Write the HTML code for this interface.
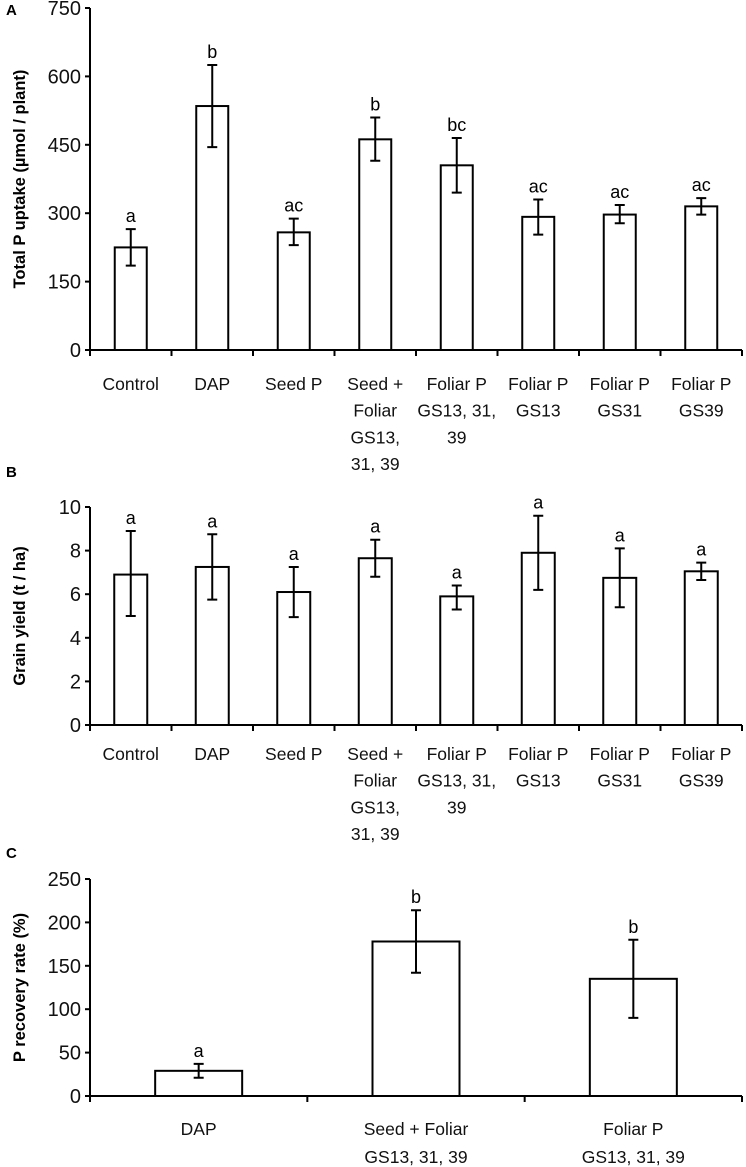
<!DOCTYPE html>
<html><head><meta charset="utf-8"><style>
body{margin:0;background:#fff;}
svg{display:block;font-family:"Liberation Sans",sans-serif;}
</style></head><body>
<svg id="fig" width="746" height="1167" viewBox="0 0 746 1167" xmlns="http://www.w3.org/2000/svg"></svg>
<script>
const catsAB = [["Control"],["DAP"],["Seed P"],["Seed +","Foliar","GS13,","31, 39"],["Foliar P","GS13, 31,","39"],["Foliar P","GS13"],["Foliar P","GS31"],["Foliar P","GS39"]];
const uptakeVals = [225,535,258,462,405,292,297,315];
const uptakeLo = [185,445,230,415,345,253,278,297];
const uptakeHi = [265,625,288,510,465,330,318,333];
const uptakeLetters = ["a","b","ac","b","bc","ac","ac","ac"];
const uptakeTicks = [0,150,300,450,600,750];
const yieldVals = [6.9,7.25,6.1,7.65,5.9,7.9,6.75,7.05];
const yieldLo = [5.0,5.75,4.95,6.8,5.3,6.2,5.4,6.65];
const yieldHi = [8.9,8.75,7.25,8.5,6.4,9.6,8.1,7.45];
const yieldLetters = ["a","a","a","a","a","a","a","a"];
const yieldTicks = [0,2,4,6,8,10];
const catsC = [["DAP"],["Seed + Foliar","GS13, 31, 39"],["Foliar P","GS13, 31, 39"]];
const recVals = [29,178,135];
const recLo = [21,142,90];
const recHi = [37,214,180];
const recLetters = ["a","b","b"];
const recTicks = [0,50,100,150,200,250];

const NS="http://www.w3.org/2000/svg";
const svg=document.getElementById('fig');
function mk(tag,attrs,parent){const e=document.createElementNS(NS,tag);for(const k in attrs)e.setAttribute(k,attrs[k]);(parent||svg).appendChild(e);return e;}

function panel(o){
  const g=mk('g',{});
  
  
  const x0=o.x0,x1=o.x1,yTop=o.yTop,yZero=o.yZero,max=o.ticks[o.ticks.length-1];
  const y=v=>yZero-(v/max)*(yZero-yTop);
  const n=o.cats.length,cw=(x1-x0)/n;
  const cx=i=>x0+cw*(i+0.5);
  const pl=mk('text',{x:6,y:o.letterY,'font-size':15,'font-weight':'bold'},g);pl.textContent=o.letter;
  
  
  const ya=mk('line',{x1:x0,y1:yTop,x2:x0,y2:yZero,stroke:'#000','stroke-width':2},g);
  
  
  o.ticks.forEach(t=>{
    mk('line',{x1:x0-5,y1:y(t),x2:x0,y2:y(t),stroke:'#000','stroke-width':2},g);
    const tl=mk('text',{x:x0-9,y:y(t)+7,'font-size':20,'text-anchor':'end',fill:'#111'},g);tl.textContent=t;
    
    
  });
  const yt=mk('text',{x:0,y:0,'font-size':16.5,'font-weight':'bold','text-anchor':'middle',transform:`translate(${o.titleX},${(yTop+yZero)/2}) rotate(-90)`},g);
  yt.textContent=o.title;
  
  
  o.vals.forEach((v,i)=>{
    const b=mk('rect',{x:cx(i)-o.bw/2,y:y(v),width:o.bw,height:yZero-y(v),fill:'#fff',stroke:'#000','stroke-width':2},g);
    
    
    const e=mk('path',{d:`M${cx(i)} ${y(o.lo[i])}V${y(o.hi[i])}M${cx(i)-5} ${y(o.lo[i])}H${cx(i)+5}M${cx(i)-5} ${y(o.hi[i])}H${cx(i)+5}`,stroke:'#000','stroke-width':2,fill:'none'},g);
    
    
    const l=mk('text',{x:cx(i),y:y(o.hi[i])-7,'font-size':18,'text-anchor':'middle'},g);l.textContent=o.letters[i];
    
    
  });
  const xa=mk('line',{x1:x0,y1:yZero,x2:x1,y2:yZero,stroke:'#000','stroke-width':2},g);
  
  
  for(let i=0;i<=n;i++)mk('line',{x1:x0+cw*i,y1:yZero,x2:x0+cw*i,y2:yZero+6,stroke:'#000','stroke-width':2},g);
  o.cats.forEach((c,i)=>{
    c.forEach((s,j)=>{
      const t=mk('text',{x:cx(i),y:yZero+o.labOff+j*o.lh,'font-size':17.5,'text-anchor':'middle',fill:'#111'},g);t.textContent=s;
      
      
    });
  });
}
panel({name:'panel-a-p-uptake',letter:'A',letterY:15,x0:90,x1:742,yTop:8,yZero:350,ticks:uptakeTicks,vals:uptakeVals,lo:uptakeLo,hi:uptakeHi,letters:uptakeLetters,cats:catsAB,bw:32,title:'Total P uptake (µmol / plant)',titleX:25,labOff:40,lh:26.7});
panel({name:'panel-b-grain-yield',letter:'B',letterY:477,x0:90,x1:742,yTop:507,yZero:725,ticks:yieldTicks,vals:yieldVals,lo:yieldLo,hi:yieldHi,letters:yieldLetters,cats:catsAB,bw:33,title:'Grain yield (t / ha)',titleX:25,labOff:35,lh:26.7});
panel({name:'panel-c-recovery',letter:'C',letterY:858,x0:90,x1:742,yTop:879,yZero:1096,ticks:recTicks,vals:recVals,lo:recLo,hi:recHi,letters:recLetters,cats:catsC,bw:87,title:'P recovery rate (%)',titleX:25,labOff:39,lh:28});
</script>
</body></html>
